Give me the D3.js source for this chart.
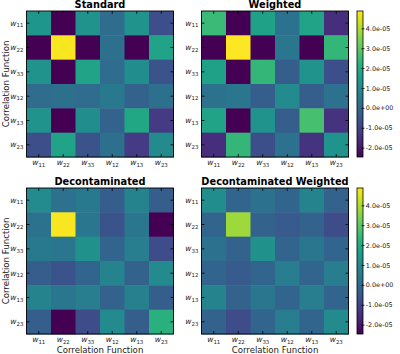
<!DOCTYPE html>
<html>
<head>
<meta charset="UTF-8">
<title></title>
<script src="https://cdn.jsdelivr.net/npm/d3@7"></script>
<style>
  body { margin: 0; background: #fff; }
  text { font-family: "DejaVu Sans", sans-serif; }
</style>
</head>
<body>
<div id="chart"></div>
<script>
// correlation functions (subscripts of w)
const labels = ["11", "22", "33", "12", "13", "23"];
const titles = ["Standard", "Weighted", "Decontaminated", "Decontaminated Weighted"];
const unit = 1e-5; // matrices below are in units of 1e-5

const standard = [
  [1.4, -2.45, 1.3, 0.1, 1.3, -0.7],
  [-2.45, 4.8, -2.45, 0.2, -2.45, 1.8],
  [1.3, -2.45, 1.8, 0.1, 1.1, -0.6],
  [0.1, 0.2, 0.1, 0.5, -0.2, 0.2],
  [1.3, -2.45, 1.1, -0.2, 1.9, -1.2],
  [-0.7, 1.8, -0.6, 0.2, -1.2, 1.0]
];
const weighted = [
  [2.5, -2.47, 1.7, 0.3, 1.8, -1.5],
  [-2.47, 4.87, -2.47, 0.4, -2.47, 2.4],
  [1.7, -2.47, 2.4, -0.3, 1.3, -0.7],
  [0.3, 0.4, -0.3, 1.0, -0.3, 0.3],
  [1.8, -2.47, 1.3, -0.3, 2.7, -1.4],
  [-1.5, 2.4, -0.7, 0.3, -1.4, 1.3]
];
const decontaminated = [
  [1.0, 0.3, 0.5, -0.3, 0.8, -0.3],
  [0.3, 4.8, 0.4, -0.6, 0.4, -2.45],
  [0.5, 0.4, 1.2, -0.1, 0.6, -0.8],
  [-0.3, -0.6, -0.1, 0.8, -0.2, 1.0],
  [0.8, 0.4, 0.6, -0.2, 0.7, -0.3],
  [-0.3, -2.45, -0.8, 1.0, -0.3, 2.2]
];
const decontaminatedWeighted = [
  [1.1, -0.1, 0.3, -0.1, 0.8, -0.2],
  [-0.1, 3.8, -0.2, -0.4, -0.2, -0.8],
  [0.3, -0.2, 1.2, -0.1, 0.4, -0.1],
  [-0.1, -0.4, -0.1, 0.6, -0.1, 0.6],
  [0.8, -0.2, 0.4, -0.1, 0.6, -0.1],
  [-0.2, -0.8, -0.1, 0.6, -0.1, 1.0]
];
const colorbarTicks = [-2, -1, 0, 1, 2, 3, 4];

const matrices = [standard, weighted, decontaminated, decontaminatedWeighted];

const width = 400, height = 354;
const svg = d3.select("#chart").append("svg").attr("width", width).attr("height", height);

const pw = 147, ph = 146; // panel size
const pos = [{x: 26.5, y: 11}, {x: 201.5, y: 11}, {x: 26.5, y: 188}, {x: 201.5, y: 188}];
const cbX = 357, cbW = 6;

const allValues = matrices.flat(2);
const color = d3.scaleSequential(d3.interpolateViridis).domain(d3.extent(allValues));

// w + subscript labels
const subLabel = sel => {
  sel.selectAll(".tick text").text(null).each(function(d) {
    const t = d3.select(this);
    t.append("tspan").attr("font-style", "italic").text("w");
    t.append("tspan").attr("font-size", "72%").attr("dy", "0.3em").text(d);
  });
};

const styleAxis = g => {
  g.select(".domain").remove();
  g.selectAll(".tick line").attr("stroke-width", 0.8);
  g.selectAll("text").attr("font-size", 7.6).attr("fill", "#222");
};

matrices.forEach((m, k) => {
  const p = pos[k];
  const x = d3.scaleBand().domain(labels).range([0, pw]);
  const y = d3.scaleBand().domain(labels).range([0, ph]);
  const g = svg.append("g").attr("transform", `translate(${p.x},${p.y})`);

  const cells = [];
  m.forEach((row, i) => row.forEach((v, j) => cells.push({r: labels[i], c: labels[j], v: v})));

  g.selectAll("rect.cell").data(cells).enter().append("rect")
    .attr("class", "cell")
    .attr("x", d => x(d.c))
    .attr("y", d => y(d.r))
    .attr("width", x.bandwidth() + 0.5)
    .attr("height", y.bandwidth() + 0.5)
    .attr("fill", d => color(d.v));

  // inward ticks on all four sides
  g.append("g").attr("transform", `translate(0,${ph})`)
    .call(d3.axisBottom(x).tickSize(-3).tickPadding(2.8))
    .call(styleAxis).call(subLabel);
  g.append("g")
    .call(d3.axisLeft(y).tickSize(-3).tickPadding(3))
    .call(styleAxis).call(subLabel);
  g.append("g").call(d3.axisTop(x).tickSize(-3).tickFormat("")).call(styleAxis);
  g.append("g").attr("transform", `translate(${pw},0)`)
    .call(d3.axisRight(y).tickSize(-3).tickFormat("")).call(styleAxis);

  g.append("rect").attr("width", pw).attr("height", ph)
    .attr("fill", "none").attr("stroke", "#000").attr("stroke-width", 0.9);

  g.append("text").attr("x", pw / 2).attr("y", -2.6)
    .attr("text-anchor", "middle").attr("font-weight", "bold").attr("font-size", 9.8)
    .text(titles[k]);

  if (k % 2 === 0) {
    svg.append("text")
      .attr("transform", `translate(8.6,${p.y + ph / 2}) rotate(-90)`)
      .attr("text-anchor", "middle").attr("font-size", 8.6).attr("fill", "#222")
      .text("Correlation Function");
  }
  if (k >= 2) {
    svg.append("text").attr("x", p.x + pw / 2).attr("y", p.y + ph + 18.8)
      .attr("text-anchor", "middle").attr("font-size", 8.6).attr("fill", "#222")
      .text("Correlation Function");
  }
});

// colorbars
const grad = svg.append("defs").append("linearGradient").attr("id", "viridis")
  .attr("x1", 0).attr("y1", 1).attr("x2", 0).attr("y2", 0);
d3.range(0, 1.0001, 0.05).forEach(t => {
  grad.append("stop").attr("offset", t).attr("stop-color", d3.interpolateViridis(t));
});

const fmt = v => {
  const s = (v * unit).toExponential(1);
  return s.replace(/e([+-])(\d)$/, "e$10$2");
};

[11, 188].forEach(cy => {
  const cb = svg.append("g").attr("transform", `translate(${cbX},${cy})`);
  cb.append("rect").attr("width", cbW).attr("height", ph).attr("fill", "url(#viridis)");
  const cs = d3.scaleLinear().domain(color.domain()).range([ph, 0]);
  cb.append("g").attr("transform", `translate(${cbW - 1.5},0)`)
    .call(d3.axisRight(cs).tickValues(colorbarTicks).tickSize(3).tickPadding(1.3).tickFormat(fmt))
    .call(g => {
      g.select(".domain").remove();
      g.selectAll(".tick line").attr("stroke-width", 0.8);
      g.selectAll("text").attr("font-size", 6.4).attr("fill", "#222");
    });
  cb.append("rect").attr("width", cbW).attr("height", ph)
    .attr("fill", "none").attr("stroke", "#000").attr("stroke-width", 0.8);
});
</script>
</body>
</html>
